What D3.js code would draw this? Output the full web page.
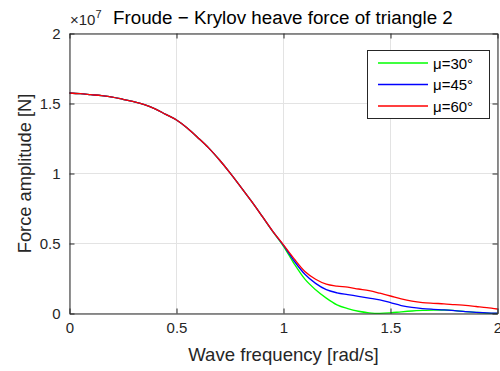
<!DOCTYPE html>
<html>
<head>
<meta charset="utf-8">
<script src="https://cdn.jsdelivr.net/npm/d3@7"></script>
<style>
  html, body { margin: 0; padding: 0; background: #fff; }
  svg { display: block; font-family: "Liberation Sans", Arial, Helvetica, sans-serif; }
</style>
</head>
<body>
<div id="chart"></div>
<script>
// Wave frequency samples [rad/s]
const omega = [0, 0.05, 0.1, 0.15, 0.2, 0.25, 0.3, 0.35, 0.4, 0.45, 0.5, 0.55, 0.6, 0.65, 0.7,
  0.75, 0.8, 0.85, 0.9, 0.95, 1.0, 1.05, 1.1, 1.15, 1.2, 1.25, 1.3, 1.35, 1.4, 1.45, 1.5,
  1.55, 1.6, 1.65, 1.7, 1.75, 1.8, 1.85, 1.9, 1.95, 2.0];

// Froude-Krylov heave force amplitude, in units of 1e7 N
const force30 = [1.575, 1.570, 1.563, 1.556, 1.546, 1.530, 1.513, 1.492, 1.462, 1.422, 1.382,
  1.325, 1.256, 1.183, 1.098, 1.005, 0.905, 0.802, 0.695, 0.585, 0.480, 0.355, 0.245, 0.170,
  0.110, 0.062, 0.035, 0.016, 0.005, 0.001, 0.005, 0.012, 0.018, 0.022, 0.025, 0.025, 0.021,
  0.014, 0.008, 0.003, 0.001];
const force45 = [1.575, 1.570, 1.563, 1.556, 1.546, 1.530, 1.513, 1.492, 1.462, 1.422, 1.382,
  1.325, 1.256, 1.183, 1.098, 1.005, 0.905, 0.802, 0.695, 0.586, 0.487, 0.375, 0.280, 0.215,
  0.170, 0.148, 0.135, 0.123, 0.110, 0.097, 0.077, 0.057, 0.043, 0.035, 0.030, 0.026, 0.020,
  0.013, 0.008, 0.004, 0.002];
const force60 = [1.575, 1.570, 1.563, 1.556, 1.546, 1.530, 1.513, 1.492, 1.462, 1.422, 1.382,
  1.325, 1.256, 1.183, 1.098, 1.005, 0.905, 0.802, 0.695, 0.587, 0.490, 0.390, 0.300, 0.245,
  0.210, 0.196, 0.188, 0.175, 0.163, 0.145, 0.125, 0.104, 0.088, 0.078, 0.073, 0.069, 0.063,
  0.058, 0.050, 0.042, 0.032];

const seriesNames = ["\u03bc=30\u00b0", "\u03bc=45\u00b0", "\u03bc=60\u00b0"];
const seriesColors = ["#00ff00", "#0000ff", "#ff0000"];
const xTicks = [0, 0.5, 1, 1.5, 2];
const yTicks = [0, 0.5, 1, 1.5, 2];

const W = 500, H = 371;
const plotLeft = 69.5, plotRight = 497.5, plotTop = 33.5, plotBottom = 313.5;
const axisColor = "#262626";

const svg = d3.select("#chart").append("svg").attr("width", W).attr("height", H);

const x = d3.scaleLinear().domain([0, 2]).range([plotLeft, plotRight]);
const y = d3.scaleLinear().domain([0, 2]).range([plotBottom, plotTop]);

// grid
const grid = svg.append("g");
grid.selectAll("line.gx").data(xTicks).join("line").attr("class", "gx")
  .attr("x1", d => x(d)).attr("x2", d => x(d)).attr("y1", plotTop).attr("y2", plotBottom)
  .attr("stroke", "#e3e3e3").attr("stroke-width", 1);
grid.selectAll("line.gy").data(yTicks).join("line").attr("class", "gy")
  .attr("y1", d => y(d)).attr("y2", d => y(d)).attr("x1", plotLeft).attr("x2", plotRight)
  .attr("stroke", "#e3e3e3").attr("stroke-width", 1);

// curves
const series = [force30, force45, force60];
const line = d3.line()
  .x((d, i) => x(omega[i]))
  .y(d => y(d))
  .curve(d3.curveMonotoneX);
svg.append("g").selectAll("path").data(series).join("path")
  .attr("d", d => line(d))
  .attr("fill", "none")
  .attr("stroke", (d, i) => seriesColors[i])
  .attr("stroke-width", 1.3);

// axes with inward ticks
function styleAxis(g) {
  g.select(".domain").attr("stroke", axisColor);
  g.selectAll(".tick line").attr("stroke", axisColor);
  g.selectAll(".tick text").attr("fill", axisColor).attr("font-size", 15)
    .attr("font-family", "'Liberation Sans', Arial, sans-serif");
}
const fmt = d => String(d);
svg.append("g").attr("transform", `translate(0,${plotBottom})`)
  .call(d3.axisBottom(x).tickValues(xTicks).tickFormat(fmt).tickSizeInner(-5).tickSizeOuter(0).tickPadding(9))
  .call(styleAxis);
svg.append("g").attr("transform", `translate(0,${plotTop})`)
  .call(d3.axisTop(x).tickValues(xTicks).tickFormat("").tickSizeInner(-5).tickSizeOuter(0))
  .call(styleAxis);
svg.append("g").attr("transform", `translate(${plotLeft},0)`)
  .call(d3.axisLeft(y).tickValues(yTicks).tickFormat(fmt).tickSizeInner(-5).tickSizeOuter(0).tickPadding(9))
  .call(styleAxis);
svg.append("g").attr("transform", `translate(${plotRight},0)`)
  .call(d3.axisRight(y).tickValues(yTicks).tickFormat("").tickSizeInner(-5).tickSizeOuter(0))
  .call(styleAxis);

// exponent label
const expo = svg.append("text").attr("x", 70).attr("y", 25)
  .attr("fill", axisColor).attr("font-size", 15);
expo.append("tspan").text("\u00d710");
expo.append("tspan").attr("font-size", 11).attr("dy", -7).text("7");

// title
svg.append("text").attr("x", 113).attr("y", 24)
  .attr("fill", "#000").attr("font-size", 18.8)
  .text("Froude \u2212 Krylov heave force of triangle 2");

// axis labels
svg.append("text").attr("x", (plotLeft + plotRight) / 2).attr("y", 361)
  .attr("text-anchor", "middle").attr("fill", axisColor).attr("font-size", 18.6)
  .text("Wave frequency [rad/s]");
svg.append("text").attr("transform", `translate(31,${(plotTop + plotBottom) / 2}) rotate(-90)`)
  .attr("text-anchor", "middle").attr("fill", axisColor).attr("font-size", 18.3)
  .text("Force amplitude [N]");

// legend
const lg = svg.append("g");
lg.append("rect").attr("x", 367.5).attr("y", 50.5).attr("width", 122).attr("height", 68)
  .attr("fill", "#fff").attr("stroke", axisColor).attr("stroke-width", 1);
const rows = lg.selectAll("g.row").data(seriesNames).join("g").attr("class", "row")
  .attr("transform", (d, i) => `translate(0,${63 + i * 21.5})`);
rows.append("line").attr("x1", 378).attr("x2", 428).attr("y1", 0).attr("y2", 0)
  .attr("stroke", (d, i) => seriesColors[i]).attr("stroke-width", 1.3);
rows.append("text").attr("x", 433).attr("y", 5.5)
  .attr("fill", "#000").attr("font-size", 15).text(d => d);
</script>
</body>
</html>
